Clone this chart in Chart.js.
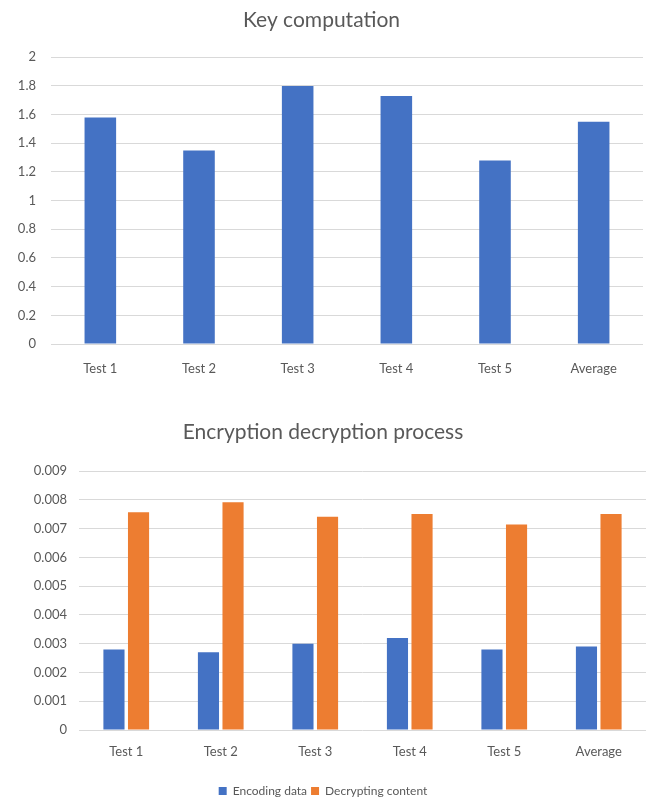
<!DOCTYPE html>
<html>
<head>
<meta charset="utf-8">
<script src="https://cdn.jsdelivr.net/npm/chart.js@4"></script>
<style>
  html, body { margin: 0; padding: 0; background: #fff; }
  body { width: 651px; height: 801px; position: relative; overflow: hidden; }
  .box { position: absolute; left: 0; width: 651px; }
  #topBox { top: 0; height: 390px; }
  #botBox { top: 400px; height: 407px; }
</style>
</head>
<body>
<div class="box" id="topBox"><canvas id="keyChart"></canvas></div>
<div class="box" id="botBox"><canvas id="encChart"></canvas></div>
<script>
// Test runs shown on both charts
const categories = ['Test 1', 'Test 2', 'Test 3', 'Test 4', 'Test 5', 'Average'];

// Key computation time per run
const keyComputation = [1.58, 1.35, 1.80, 1.73, 1.28, 1.55];

// Encryption / decryption timings per run
const encodingData = [0.0028, 0.0027, 0.0030, 0.0032, 0.0028, 0.0029];
const decryptingContent = [0.00757, 0.00792, 0.00742, 0.00751, 0.00715, 0.00751];

const seriesNames = ['Encoding data', 'Decrypting content'];
const titles = ['Key computation', 'Encryption decryption process'];

const BLUE = '#4472C4';
const ORANGE = '#ED7D31';
const GRID = '#d9d9d9';
const TEXT = '#595959';
const FONT = "Lato, 'Open Sans', sans-serif";

Chart.defaults.font.family = FONT;
Chart.defaults.color = TEXT;
Chart.defaults.animation = false;

const fmt = (v) => String(Number(v.toFixed(4)));

new Chart(document.getElementById('keyChart'), {
  type: 'bar',
  data: {
    labels: categories,
    datasets: [{
      label: titles[0],
      data: keyComputation,
      backgroundColor: BLUE,
      categoryPercentage: 0.32,
      barPercentage: 1.0
    }]
  },
  options: {
    responsive: true,
    maintainAspectRatio: false,
    layout: { padding: { left: 0, right: 8, top: 0, bottom: 0 } },
    plugins: {
      legend: { display: false },
      tooltip: { enabled: false },
      title: {
        display: true,
        text: titles[0],
        color: TEXT,
        font: { size: 21, weight: 'normal', family: FONT },
        padding: { top: 8, bottom: 24 }
      }
    },
    scales: {
      x: {
        grid: { display: false },
        border: { display: false },
        ticks: { color: TEXT, font: { size: 13 }, padding: 9 },
        afterFit: (s) => { s.height = 46; }
      },
      y: {
        min: 0, max: 2,
        ticks: { stepSize: 0.2, color: TEXT, font: { size: 13 }, padding: 15, callback: fmt },
        grid: { color: GRID, lineWidth: 1, drawTicks: false },
        border: { display: false },
        afterFit: (s) => { s.width = 51; }
      }
    }
  }
});

new Chart(document.getElementById('encChart'), {
  type: 'bar',
  data: {
    labels: categories,
    datasets: [
      { label: seriesNames[0], data: encodingData, backgroundColor: BLUE,
        categoryPercentage: 0.52, barPercentage: 0.86 },
      { label: seriesNames[1], data: decryptingContent, backgroundColor: ORANGE,
        categoryPercentage: 0.52, barPercentage: 0.86 }
    ]
  },
  options: {
    responsive: true,
    maintainAspectRatio: false,
    layout: { padding: { left: 0, right: 5, top: 0, bottom: 0 } },
    plugins: {
      tooltip: { enabled: false },
      title: {
        display: true,
        text: titles[1],
        color: TEXT,
        font: { size: 21, weight: 'normal', family: FONT },
        padding: { top: 20, bottom: 26 }
      },
      legend: {
        position: 'bottom',
        labels: {
          color: TEXT,
          font: { size: 12 },
          boxWidth: 8,
          boxHeight: 8,
          padding: 4
        }
      }
    },
    scales: {
      x: {
        grid: { display: false },
        border: { display: false },
        ticks: { color: TEXT, font: { size: 13 }, padding: 6 },
        afterFit: (s) => { s.height = 51; }
      },
      y: {
        min: 0, max: 0.009,
        ticks: { stepSize: 0.001, color: TEXT, font: { size: 13 }, padding: 12, callback: fmt },
        grid: { color: GRID, lineWidth: 1, drawTicks: false },
        border: { display: false },
        afterFit: (s) => { s.width = 79; }
      }
    }
  }
});
</script>
</body>
</html>
